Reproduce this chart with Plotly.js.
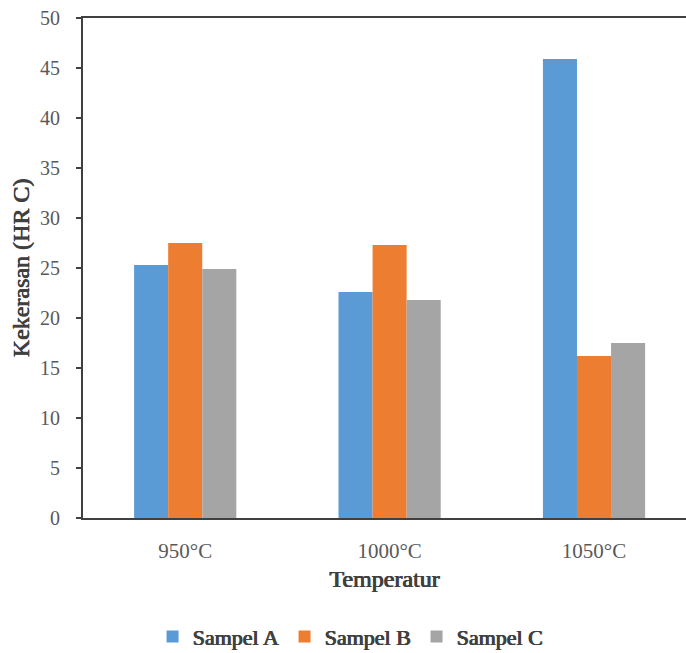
<!DOCTYPE html>
<html>
<head>
<meta charset="utf-8">
<script src="https://cdn.plot.ly/plotly-3.0.1.min.js"></script>
<style>html,body{margin:0;padding:0;background:#fff;}#chart{width:686px;height:653px;}</style>
</head>
<body>
<div id="chart"></div>
<script>
const categories = ["950°C", "1000°C", "1050°C"];
const sampelA = [25.3, 22.6, 45.9];
const sampelB = [27.5, 27.3, 16.2];
const sampelC = [24.9, 21.8, 17.5];
const seriesNames = ["Sampel A", "Sampel B", "Sampel C"];
const yTicks = [0, 5, 10, 15, 20, 25, 30, 35, 40, 45, 50];

const FAM = "Liberation Serif";
const BOLD = {family: FAM, weight: "normal", shadow: "0.6px 0 0 #404040, -0.3px 0 0 #404040"};
const colors = ["#5B9BD5", "#ED7D31", "#A5A5A5"];
const seriesVals = [sampelA, sampelB, sampelC];
const traces = seriesVals.map((v, i) => ({
  type: "bar",
  x: categories,
  y: v,
  name: seriesNames[i],
  marker: {color: colors[i], line: {width: 0}},
  hoverinfo: "y"
}));

const layout = {
  width: 686, height: 653,
  margin: {l: 83, r: 0, t: 18, b: 135, autoexpand: false},
  paper_bgcolor: "#fff", plot_bgcolor: "#fff",
  barmode: "group", bargap: 0.5, bargroupgap: 0,
  font: {family: FAM, color: "#595959", size: 21},
  xaxis: {
    type: "category",
    range: [-0.5, 2.45],
    showline: true, linecolor: "#404040", linewidth: 2, mirror: true,
    ticks: "", showgrid: false, zeroline: false,
    ticklabelstandoff: 13,
    tickfont: {family: FAM, size: 21, color: "#595959"},
    title: {text: "Temperatur", font: Object.assign({size: 24, color: "#404040"}, BOLD), standoff: 8}
  },
  yaxis: {
    range: [0, 50], tickvals: yTicks,
    showline: true, linecolor: "#404040", linewidth: 2,
    ticks: "outside", ticklen: 5, tickcolor: "#404040", tickwidth: 2,
    showgrid: false, zeroline: false,
    ticklabelstandoff: 12,
    tickfont: {family: FAM, size: 20, color: "#595959"},
    title: {text: "Kekerasan (HR C)", font: Object.assign({size: 24, color: "#404040"}, BOLD), standoff: 4}
  },
  showlegend: true,
  legend: {
    orientation: "h", xref: "container", yref: "container",
    x: 0.511, xanchor: "center", y: 0.025, yanchor: "middle",
    entrywidth: 87, entrywidthmode: "pixels", itemwidth: 30,
    font: Object.assign({size: 22, color: "#404040"}, BOLD), traceorder: "normal"
  }
};

Plotly.newPlot("chart", traces, layout, {displayModeBar: false, staticPlot: true});
</script>
</body>
</html>
